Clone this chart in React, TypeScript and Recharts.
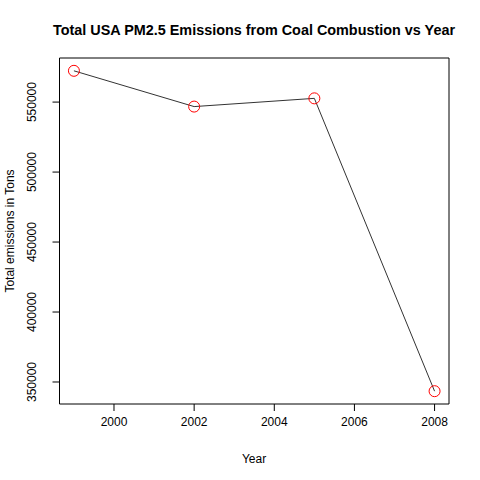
import { LineChart, Line, XAxis, YAxis, ReferenceArea } from 'recharts';

const years = [1999, 2002, 2005, 2008];
const emissions = [572346, 546789, 552675, 343432];
const xTicks = [2000, 2002, 2004, 2006, 2008];
const yTicks = [350000, 400000, 450000, 500000, 550000];

const data = years.map((year, i) => ({ year, total: emissions[i] }));

const xDomain: [number, number] = [1998.64, 2008.36];
const yDomain: [number, number] = [334275, 581503];
const font = 'Liberation Sans, Arial, sans-serif';

function YTick(props: any) {
  const { x, y, payload } = props;
  return (
    <text
      x={x - 14}
      y={y}
      transform={`rotate(-90, ${x - 14}, ${y})`}
      textAnchor="middle"
      fontSize={12}
      fontFamily={font}
      fill="#000"
    >
      {payload.value}
    </text>
  );
}

function Ring(props: any) {
  const { cx, cy } = props;
  return <circle cx={cx} cy={cy} r={5.5} fill="none" stroke="#ff0000" strokeWidth={1} />;
}

export default function App() {
  return (
    <div style={{ position: 'absolute', left: 0, top: 0, width: 480, height: 480, background: '#fff' }}>
      <LineChart
        width={480}
        height={480}
        data={data}
        margin={{ top: 58, right: 31, bottom: 0, left: 0 }}
      >
        <text x={254} y={35} textAnchor="middle" fontSize={14.4} fontWeight="bold" fontFamily={font}>
          Total USA PM2.5 Emissions from Coal Combustion vs Year
        </text>
        <text x={254} y={463} textAnchor="middle" fontSize={12} fontFamily={font}>
          Year
        </text>
        <text
          x={14}
          y={231}
          transform="rotate(-90, 14, 231)"
          textAnchor="middle"
          fontSize={12}
          fontFamily={font}
        >
          Total emissions in Tons
        </text>
        <XAxis
          dataKey="year"
          type="number"
          domain={xDomain}
          ticks={xTicks}
          allowDataOverflow
          height={76}
          axisLine={false}
          tickSize={7}
          tickMargin={6}
          tickLine={{ stroke: '#000' }}
          tick={{ fill: '#000', fontSize: 12, fontFamily: font }}
        />
        <YAxis
          type="number"
          domain={yDomain}
          ticks={yTicks}
          allowDataOverflow
          width={59.5}
          axisLine={false}
          tickSize={7}
          tickLine={{ stroke: '#000' }}
          tick={<YTick />}
        />
        <ReferenceArea
          x1={xDomain[0]}
          x2={xDomain[1]}
          y1={yDomain[0]}
          y2={yDomain[1]}
          fill="none"
          fillOpacity={0}
          stroke="#000"
          strokeWidth={1}
        />
        <Line
          dataKey="total"
          stroke="#333"
          strokeWidth={1}
          dot={<Ring />}
          activeDot={false}
          isAnimationActive={false}
        />
      </LineChart>
    </div>
  );
}
